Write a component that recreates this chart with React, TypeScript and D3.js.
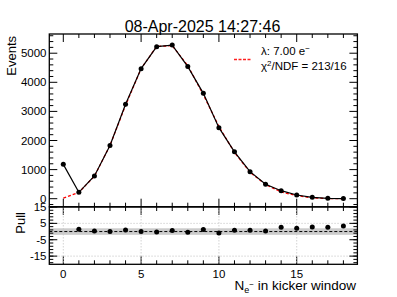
import React from 'react';
import * as d3 from 'd3';

// N_e- per kicker window, counts per bin
const nElectrons = [0, 1, 2, 3, 4, 5, 6, 7, 8, 9, 10, 11, 12, 13, 14, 15, 16, 17, 18];
const events = [1180, 220, 780, 1830, 3245, 4470, 5225, 5280, 4540, 3620, 2440, 1610, 930, 495, 275, 127, 48, 14, 5];
const fitValues = [20, 215, 775, 1830, 3210, 4470, 5230, 5260, 4570, 3570, 2480, 1590, 910, 485, 232, 104, 29, 5, 0];
const pullX = [1, 2, 3, 4, 5, 6, 7, 8, 9, 10, 11, 12, 13, 14, 15, 16, 17, 18];
const pulls = [1.4, 0.4, 0, 1.0, 0, -0.2, 0.6, -0.4, 1.2, -0.9, 0.8, 0.8, 0.4, 2.6, 2.0, 2.8, 2.6, 3.4];

const xTicks = [0, 5, 10, 15];
const yTicks = [0, 1000, 2000, 3000, 4000, 5000];
const pullTicks = [-15, -5, 5, 15];
const pullGrid = [5, -15];

const FONT = '"Liberation Sans", Arial, Helvetica, sans-serif';

export default function App() {
  const left = 49.3, right = 357.4;
  const topY0 = 34, topY1 = 206.7;
  const botY0 = 207, botY1 = 264.3;

  const x = d3.scaleLinear().domain([-0.9, 18.9]).range([left, right]);
  const y = d3.scaleLinear().domain([-275, 5660]).range([topY1, topY0]);
  const yp = d3.scaleLinear().domain([-20, 15]).range([botY1, botY0]);

  const dataLine = d3.line<number>().x((_, i) => x(nElectrons[i])).y(d => y(d));
  const fitLine = d3.line<number>().x((_, i) => x(nElectrons[i])).y(d => y(d));

  const xMinor = d3.range(0, 19, 1);
  const yMinor = d3.range(-200, 5601, 200);
  const pMinor = d3.range(-19, 16, 2);

  const maj = 8, mnr = 4;

  return (
    <svg width={397} height={297} style={{ position: 'absolute', left: 0, top: 0 }} fontFamily={FONT}>
      <rect x={0} y={0} width={397} height={297} fill="white" />
      <text x={202.5} y={31.5} fontSize={16} textAnchor="middle">08-Apr-2025 14:27:46</text>

      {/* top pad */}
      <path d={fitLine(fitValues) || ''} fill="none" stroke="#ff0000" strokeWidth={1.3} strokeDasharray="3,2" />
      <path d={dataLine(events) || ''} fill="none" stroke="black" strokeWidth={1.2} />
      {events.map((v, i) => (
        <circle key={i} cx={x(nElectrons[i])} cy={y(v)} r={2.5} fill="black" />
      ))}

      {xMinor.map(t => {
        const L = t % 5 === 0 ? maj : mnr;
        return (
          <g key={'xt' + t} stroke="black" strokeWidth={1}>
            <line x1={x(t)} x2={x(t)} y1={topY0} y2={topY0 + L} />
            <line x1={x(t)} x2={x(t)} y1={topY1} y2={topY1 - L} />
            <line x1={x(t)} x2={x(t)} y1={botY0} y2={botY0 + L} />
            <line x1={x(t)} x2={x(t)} y1={botY1} y2={botY1 - L} />
          </g>
        );
      })}
      {yMinor.map(t => {
        const L = t % 1000 === 0 ? maj : mnr;
        return (
          <g key={'yt' + t} stroke="black" strokeWidth={1}>
            <line x1={left} x2={left + L} y1={y(t)} y2={y(t)} />
            <line x1={right} x2={right - L} y1={y(t)} y2={y(t)} />
          </g>
        );
      })}
      {yTicks.map(t => (
        <text key={'yl' + t} x={46.5} y={y(t) + 4} fontSize={11.5} textAnchor="end">{t}</text>
      ))}
      <text transform="translate(16,36) rotate(-90)" fontSize={13} textAnchor="end">Events</text>

      {/* legend */}
      <line x1={234} x2={252} y1={59.5} y2={59.5} stroke="#ff2020" strokeWidth={1.6} strokeDasharray="3,1.5" />
      <text x={261} y={54.5} fontSize={11.5}>
        λ: 7.00 e<tspan dy={-4} fontSize={8}>−</tspan>
      </text>
      <text x={261} y={69.5} fontSize={11.5}>
        χ<tspan dy={-4} fontSize={8}>2</tspan><tspan dy={4}>/NDF = 213/16</tspan>
      </text>

      {/* pull pad */}
      <rect x={left} y={yp(2)} width={right - left} height={yp(-2) - yp(2)} fill="#cccccc" />
      {xTicks.map(t => (
        <line key={'pg' + t} x1={x(t)} x2={x(t)} y1={botY0} y2={botY1} stroke="#c8c8c8" strokeWidth={0.8} strokeDasharray="1.5,1.5" />
      ))}
      {pullGrid.map(t => (
        <line key={'ph' + t} x1={left} x2={right} y1={yp(t)} y2={yp(t)} stroke="#c8c8c8" strokeWidth={0.8} strokeDasharray="1.5,1.5" />
      ))}
      <line x1={left} x2={right} y1={yp(0)} y2={yp(0)} stroke="black" strokeWidth={1} strokeDasharray="3,2" />
      {pulls.map((p, i) => (
        <circle key={'p' + i} cx={x(pullX[i])} cy={yp(p)} r={2.5} fill="black" />
      ))}
      {pMinor.map(t => (
        <g key={'pm' + t} stroke="black" strokeWidth={1}>
          <line x1={left} x2={left + mnr} y1={yp(t)} y2={yp(t)} />
          <line x1={right} x2={right - mnr} y1={yp(t)} y2={yp(t)} />
        </g>
      ))}
      {pullTicks.map(t => (
        <g key={'pt' + t}>
          <line x1={left} x2={left + maj} y1={yp(t)} y2={yp(t)} stroke="black" />
          <line x1={right} x2={right - maj} y1={yp(t)} y2={yp(t)} stroke="black" />
          <text x={46.5} y={yp(t) + 4} fontSize={11.5} textAnchor="end">{t}</text>
        </g>
      ))}
      <text transform="translate(25,212) rotate(-90)" fontSize={13} textAnchor="end">Pull</text>

      {xTicks.map(t => (
        <text key={'xl' + t} x={x(t)} y={277.5} fontSize={11.5} textAnchor="middle">{t}</text>
      ))}
      <text x={356} y={290} fontSize={13.5} textAnchor="end">
        N<tspan dy={3} fontSize={9}>e</tspan><tspan dy={-6} fontSize={8}>−</tspan><tspan dy={3}> in kicker window</tspan>
      </text>

      {/* frames */}
      <rect x={left} y={topY0} width={right - left} height={topY1 - topY0} fill="none" stroke="black" strokeWidth={1.3} />
      <rect x={left} y={botY0} width={right - left} height={botY1 - botY0} fill="none" stroke="black" strokeWidth={1.3} />
    </svg>
  );
}
